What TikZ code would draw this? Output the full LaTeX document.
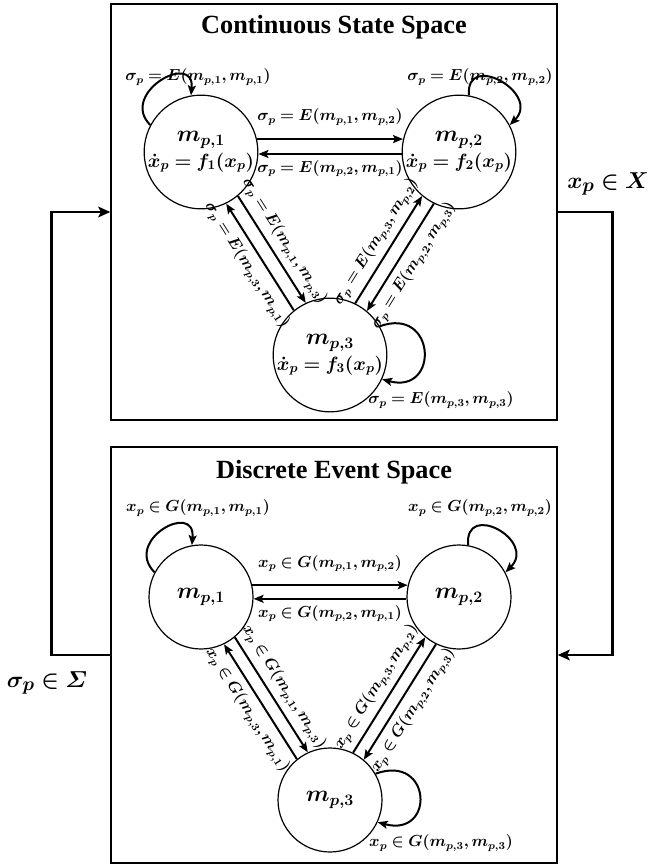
\documentclass[tikz,border=0pt]{standalone}
\usepackage{amsmath}
\usepackage{bm}
\usepackage[no-math]{fontspec}
\newfontfamily\titlefont{Liberation Serif}
\usetikzlibrary{arrows.meta}
\begin{document}
\begin{tikzpicture}[x=0.75pt,y=0.75pt,
  box/.style={draw, line width=1.1pt, minimum width=334.5pt, minimum height=312pt, inner sep=0pt},
  st/.style={circle, draw, line width=0.9pt, minimum size=78pt, inner sep=0pt, align=center, font=\fontsize{13.8}{19}\selectfont},
  mm/.style={},
  arr/.style={line width=1.5pt, -{Stealth[length=7.5pt,width=6pt,inset=1.5pt]}},
  lab/.style={font=\fontsize{11.5}{13}\selectfont, inner sep=1.5pt},
  ttl/.style={font=\titlefont\bfseries\fontsize{19.7}{22}\selectfont},
  fb/.style={line width=2.2pt, -{Stealth[length=9pt,width=8pt,inset=2pt]}},
  big/.style={font=\fontsize{19}{21}\selectfont}
]
\useasboundingbox (0,0) rectangle (652,-867);

% boxes and titles
\node[box] (topbox) at (334,-212) {};
\node[box] (botbox) at (334,-655) {};
\node[ttl] (t1) at (334,-27) {Continuous State Space};
\node[ttl] (t2) at (334,-472) {Discrete Event Space};

% ---------- top: continuous ----------
\node[st] (A1) at (201,-152) {{\fontsize{18}{19}\selectfont$\bm{m_{p,1}}$}\\$\bm{\dot{x}_p = f_1(x_p)}$};
\node[st] (A2) at (459,-152) {{\fontsize{18}{19}\selectfont$\bm{m_{p,2}}$}\\$\bm{\dot{x}_p = f_2(x_p)}$};
\node[st] (A3) at (330,-355) {{\fontsize{18}{19}\selectfont$\bm{m_{p,3}}$}\\$\bm{\dot{x}_p = f_3(x_p)}$};

\draw[arr] (A1.13) -- node[lab, above=8pt] (a12) {$\bm{\sigma_p = E(m_{p,1}, m_{p,2})}$} (A2.167);
\draw[arr] (A2.182) -- node[lab, below=2.5pt] (a21) {$\bm{\sigma_p = E(m_{p,2}, m_{p,1})}$} (A1.-2);
\draw[arr] (A1.-50.8) -- node[lab, sloped, above=3pt] (a13) {$\bm{\sigma_p = E(m_{p,1}, m_{p,3})}$} (A3.115.6);
\draw[arr] (A3.129.2) -- node[lab, sloped, below=3pt] (a31) {$\bm{\sigma_p = E(m_{p,3}, m_{p,1})}$} (A1.-64.4);
\draw[arr] (A3.64.4) -- node[lab, sloped, above=3pt] (a32) {$\bm{\sigma_p = E(m_{p,3}, m_{p,2})}$} (A2.230.8);
\draw[arr] (A2.244.4) -- node[lab, sloped, below=3pt] (a23) {$\bm{\sigma_p = E(m_{p,2}, m_{p,3})}$} (A3.50.8);

\draw[arr] (A1.152) .. controls +(135:45) and +(85:45) .. (A1.100);
\draw[arr] (A2.80) .. controls +(95:45) and +(45:45) .. (A2.28);
\draw[arr] (A3.30) .. controls +(20:60) and +(-15:60) .. (A3.-25);
\node[lab] (a11) at (198,-77) {$\bm{\sigma_p = E(m_{p,1}, m_{p,1})}$};
\node[lab] (a22) at (480,-77) {$\bm{\sigma_p = E(m_{p,2}, m_{p,2})}$};
\node[lab] (a33) at (441,-400) {$\bm{\sigma_p = E(m_{p,3}, m_{p,3})}$};

% ---------- bottom: discrete ----------
\node[st] (B1) at (201,-597) {{\fontsize{18}{19}\selectfont$\bm{m_{p,1}}$}};
\node[st] (B2) at (459,-597) {{\fontsize{18}{19}\selectfont$\bm{m_{p,2}}$}};
\node[st] (B3) at (330,-800) {{\fontsize{18}{19}\selectfont$\bm{m_{p,3}}$}};

\draw[arr] (B1.13) -- node[lab, above=8pt] (b12) {$\bm{x_p \in G(m_{p,1}, m_{p,2})}$} (B2.167);
\draw[arr] (B2.182) -- node[lab, below=2.5pt] (b21) {$\bm{x_p \in G(m_{p,2}, m_{p,1})}$} (B1.-2);
\draw[arr] (B1.-50.8) -- node[lab, sloped, above=3pt] (b13) {$\bm{x_p \in G(m_{p,1}, m_{p,3})}$} (B3.115.6);
\draw[arr] (B3.129.2) -- node[lab, sloped, below=3pt] (b31) {$\bm{x_p \in G(m_{p,3}, m_{p,1})}$} (B1.-64.4);
\draw[arr] (B3.64.4) -- node[lab, sloped, above=3pt] (b32) {$\bm{x_p \in G(m_{p,3}, m_{p,2})}$} (B2.230.8);
\draw[arr] (B2.244.4) -- node[lab, sloped, below=3pt] (b23) {$\bm{x_p \in G(m_{p,2}, m_{p,3})}$} (B3.50.8);

\draw[arr] (B1.152) .. controls +(135:45) and +(85:45) .. (B1.100);
\draw[arr] (B2.80) .. controls +(95:45) and +(45:45) .. (B2.28);
\draw[arr] (B3.30) .. controls +(20:60) and +(-15:60) .. (B3.-25);
\node[lab] (b11) at (198,-508) {$\bm{x_p \in G(m_{p,1}, m_{p,1})}$};
\node[lab] (b22) at (480,-508) {$\bm{x_p \in G(m_{p,2}, m_{p,2})}$};
\node[lab] (b33) at (441,-843) {$\bm{x_p \in G(m_{p,3}, m_{p,3})}$};

% ---------- feedback ----------
\draw[fb] (topbox.east) -- ++(55,0) |- (botbox.east);
\draw[fb] (botbox.west) -- ++(-59,0) |- (topbox.west);
\node[big] (xl) at (608,-184) {$\bm{x_p \in X}$};
\node[big] (sl) at (47,-683) {$\bm{\sigma_p \in \varSigma}$};
\end{tikzpicture}
\end{document}
